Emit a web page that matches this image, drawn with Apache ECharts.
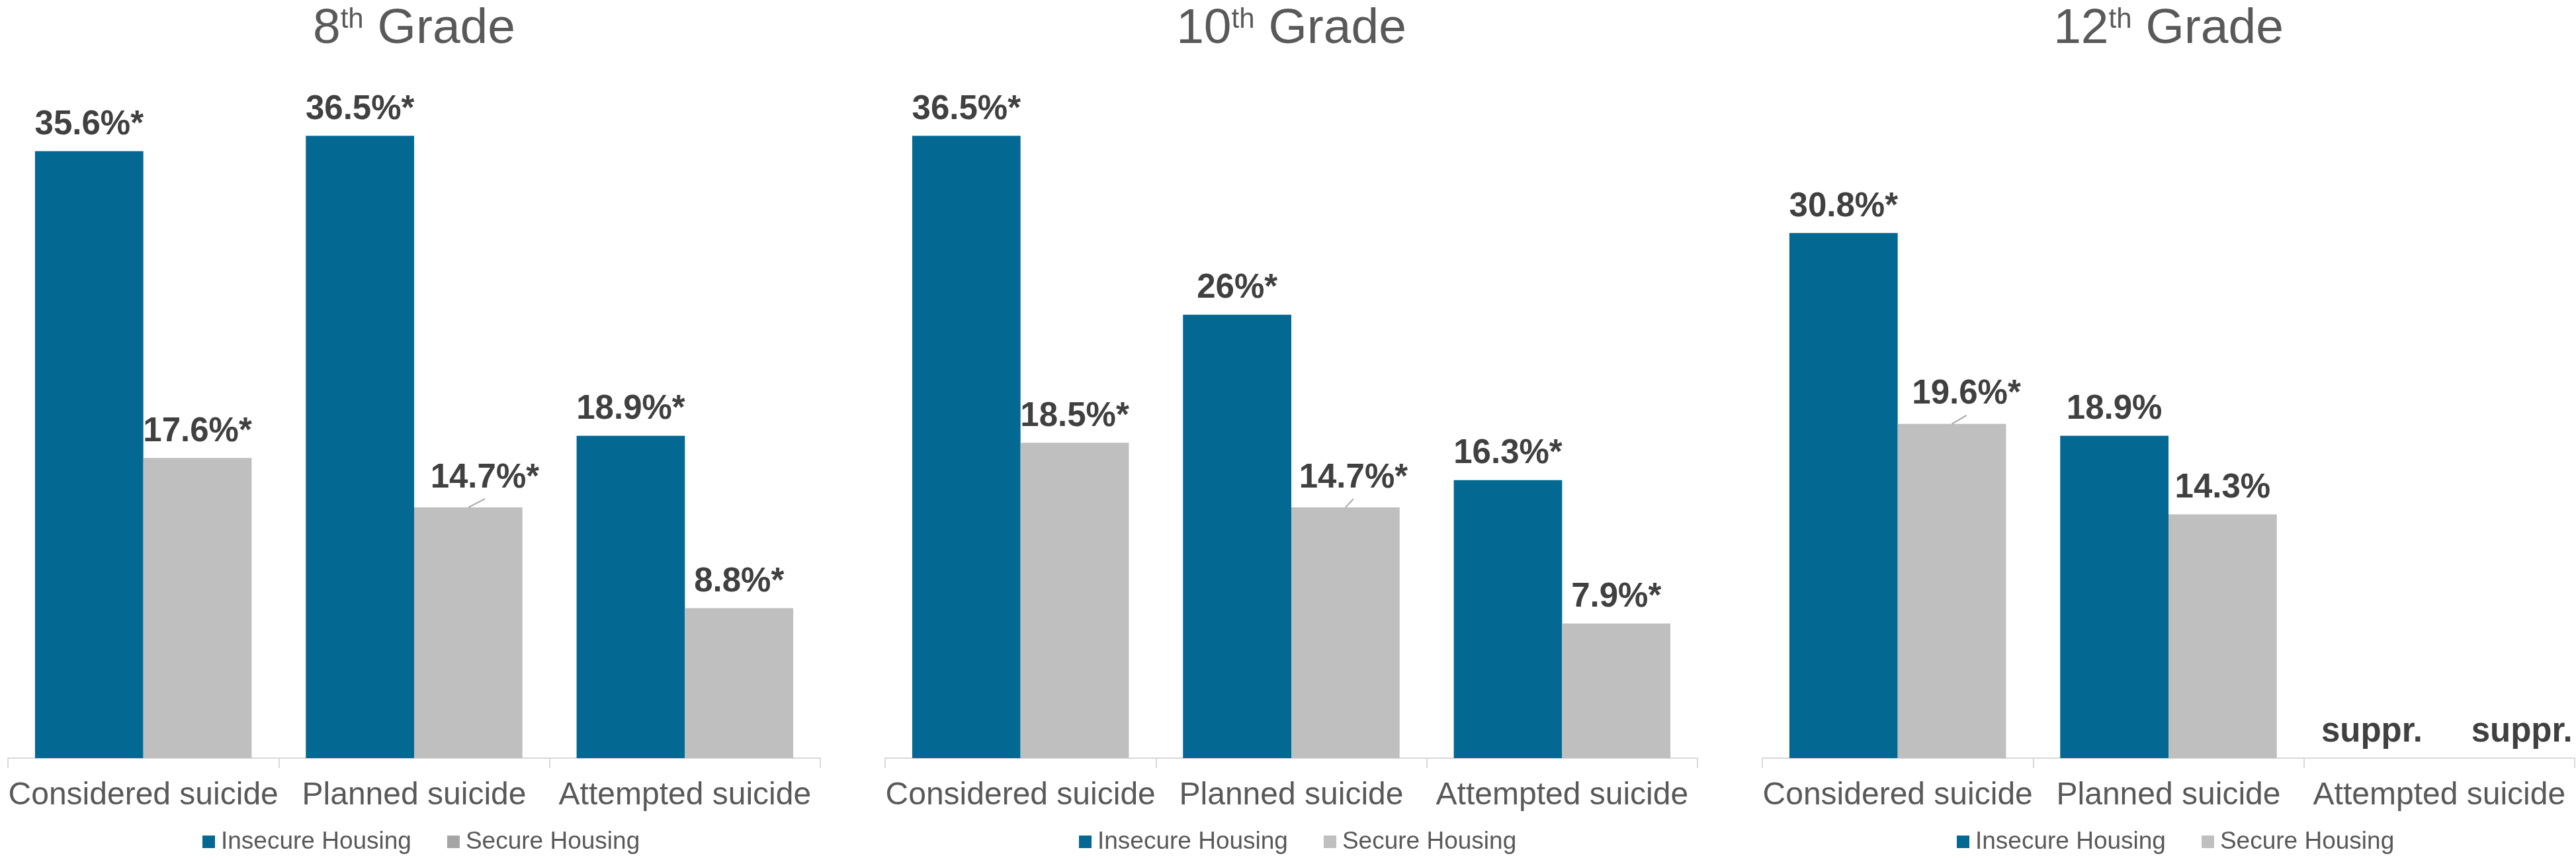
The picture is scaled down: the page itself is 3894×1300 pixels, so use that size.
<!DOCTYPE html>
<html>
<head>
<meta charset="utf-8">
<title>Suicidal ideation by housing security and grade</title>
<script src="https://cdn.jsdelivr.net/npm/echarts@6/dist/echarts.min.js"></script>
<style>
  html, body { margin: 0; padding: 0; background: #ffffff; }
  #chart { width: 3894px; height: 1300px; }
</style>
</head>
<body>
<div id="chart"></div>
<script>
// ---- data ----
const categories = ['Considered suicide', 'Planned suicide', 'Attempted suicide'];
const seriesNames = ['Insecure Housing', 'Secure Housing'];
const gradeNumbers = ['8', '10', '12'];

const grade8Insecure = [35.6, 36.5, 18.9];
const grade8Secure = [17.6, 14.7, 8.8];
const grade10Insecure = [36.5, 26, 16.3];
const grade10Secure = [18.5, 14.7, 7.9];
// attempted suicide for 12th grade is suppressed (no bar)
const grade12Insecure = [30.8, 18.9, 0];
const grade12Secure = [19.6, 14.3, 0];

const grade8InsecureLabels = ['35.6%*', '36.5%*', '18.9%*'];
const grade8SecureLabels = ['17.6%*', '14.7%*', '8.8%*'];
const grade10InsecureLabels = ['36.5%*', '26%*', '16.3%*'];
const grade10SecureLabels = ['18.5%*', '14.7%*', '7.9%*'];
const grade12InsecureLabels = ['30.8%*', '18.9%', 'suppr.'];
const grade12SecureLabels = ['19.6%*', '14.3%', 'suppr.'];

// ---- styling / layout ----
const FONT = "'Liberation Sans', Arial, Helvetica, sans-serif";
const BLUE = '#036993';
const GREY = '#BFBFBF';
const PANEL_LEFT = [12, 1338, 2664];
const PANEL_WIDTH = 1228;
const GRID_TOP = 115;
const GRID_HEIGHT = 1031;
const LEGEND_LEFT = [301, 1626, 2953];
const LABEL_DIST = 14;

const panels = [
  { insecure: grade8Insecure, secure: grade8Secure, insL: grade8InsecureLabels, secL: grade8SecureLabels,
    secureLegendColor: '#A5A5A5' },
  { insecure: grade10Insecure, secure: grade10Secure, insL: grade10InsecureLabels, secL: grade10SecureLabels,
    secureLegendColor: GREY },
  { insecure: grade12Insecure, secure: grade12Secure, insL: grade12InsecureLabels, secL: grade12SecureLabels,
    secureLegendColor: GREY }
];

// labels nudged off their bars: 'panel-series-dataIndex' -> [dx, dy, leader line]
const labelShift = {
  '0-1-1': [25, -5, true],
  '1-1-1': [12, -5, true],
  '2-1-0': [22, -5, true],
  '2-0-2': [-20, 0, false],
  '2-1-2': [43, 0, false]
};

const grids = [], xAxes = [], yAxes = [], titles = [], legends = [], series = [];

panels.forEach((p, i) => {
  grids.push({ left: PANEL_LEFT[i], width: PANEL_WIDTH, top: GRID_TOP, height: GRID_HEIGHT, containLabel: false });
  xAxes.push({
    type: 'category', gridIndex: i, data: categories,
    axisLine: { show: true, lineStyle: { color: '#D9D9D9', width: 2 } },
    axisTick: { show: true, length: 15, lineStyle: { color: '#D9D9D9', width: 2 } },
    axisLabel: { interval: 0, margin: 33, fontSize: 48, color: '#595959', fontFamily: FONT }
  });
  yAxes.push({ type: 'value', gridIndex: i, min: 0, max: 40, show: false, splitLine: { show: false } });
  titles.push({
    left: PANEL_LEFT[i] + PANEL_WIDTH / 2, top: 7, padding: 0, textAlign: 'center',
    text: '{n|' + gradeNumbers[i] + '}{s|th}{n| Grade}',
    textStyle: {
      fontWeight: 'normal',
      rich: {
        n: { fontSize: 75, fontWeight: 'normal', color: '#595959', fontFamily: FONT },
        s: { fontSize: 42, fontWeight: 'normal', color: '#595959', fontFamily: FONT,
             verticalAlign: 'top', padding: [2, 0, 0, 0] }
      }
    }
  });
  legends.push({
    left: LEGEND_LEFT[i], top: 1249, padding: 5, itemGap: 54, itemWidth: 19, itemHeight: 19,
    icon: 'rect',
    data: [
      { name: seriesNames[0], itemStyle: { color: BLUE } },
      { name: seriesNames[1], itemStyle: { color: p.secureLegendColor } }
    ],
    textStyle: { fontSize: 37, color: '#595959', fontFamily: FONT, padding: [0, 0, 0, 4] }
  });

  [[p.insecure, p.insL, BLUE], [p.secure, p.secL, GREY]].forEach(([vals, labs, color], s) => {
    series.push({
      type: 'bar', name: seriesNames[s], xAxisIndex: i, yAxisIndex: i,
      barGap: '0%', barCategoryGap: '20%',
      itemStyle: { color: color },
      data: vals,
      label: {
        show: true, position: 'top', distance: LABEL_DIST,
        fontSize: 51, fontWeight: 'bold', color: '#404040', fontFamily: FONT,
        formatter: (prm) => labs[prm.dataIndex]
      },
      labelLayout: (prm) => {
        const shift = labelShift[i + '-' + s + '-' + prm.dataIndex];
        if (!shift) return {};
        return {
          x: prm.rect.x + prm.rect.width / 2 + shift[0],
          y: prm.rect.y - LABEL_DIST + shift[1],
          align: 'center', verticalAlign: 'bottom'
        };
      },
      emphasis: { disabled: true },
      animation: false
    });
  });
});

const chart = echarts.init(document.getElementById('chart'), null, { renderer: 'canvas' });
chart.setOption({
  backgroundColor: '#ffffff',
  animation: false,
  textStyle: { fontFamily: FONT },
  title: titles,
  legend: legends,
  grid: grids,
  xAxis: xAxes,
  yAxis: yAxes,
  series: series
});

// leader lines from the top of a bar to its displaced label, using the bar layout computed by ECharts
const leaders = [];
Object.keys(labelShift).forEach((key) => {
  const shift = labelShift[key];
  if (!shift[2]) return;
  const [pi, s, k] = key.split('-').map(Number);
  const seriesModel = chart.getModel().getSeriesByIndex(pi * 2 + s);
  const layout = seriesModel.getData().getItemLayout(k);
  const cx = layout.x + layout.width / 2;
  const top = Math.min(layout.y, layout.y + layout.height);
  leaders.push({
    type: 'line', silent: true, z: 10,
    shape: { x1: cx, y1: top, x2: cx + shift[0], y2: top - 13 },
    style: { stroke: '#A6A6A6', lineWidth: 2 }
  });
});
chart.setOption({ graphic: leaders });
</script>
</body>
</html>
